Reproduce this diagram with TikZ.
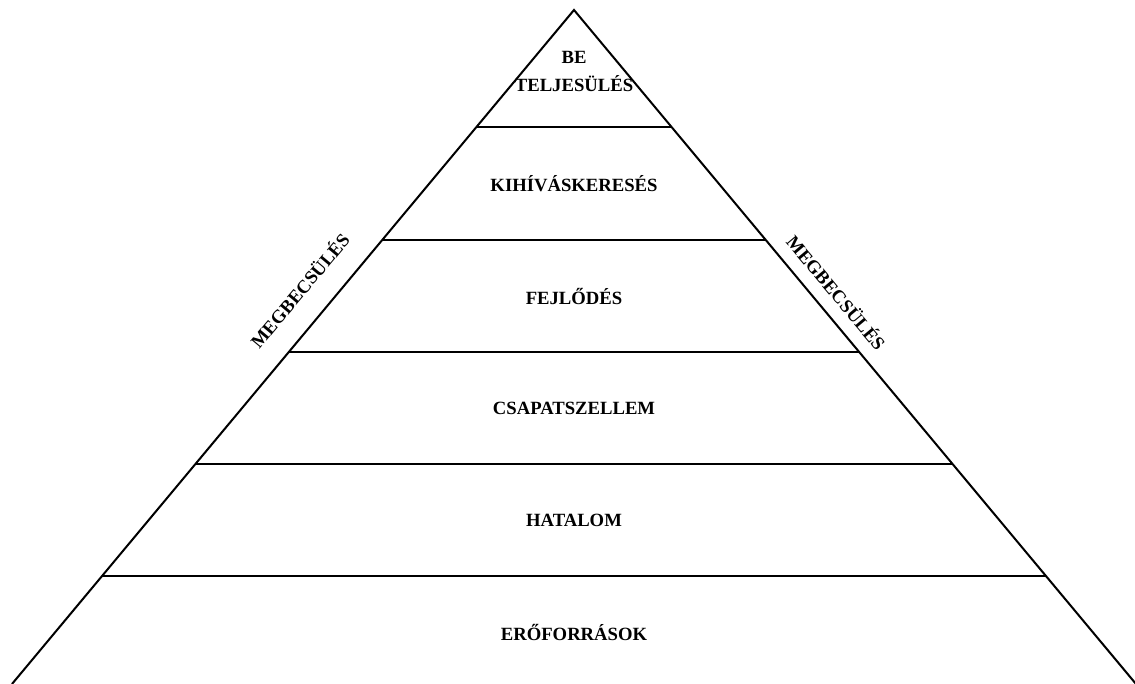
\documentclass[tikz,border=0pt]{standalone}
\usepackage{fontspec}
\setmainfont{Liberation Serif}
\usetikzlibrary{calc}
\begin{document}
\begin{tikzpicture}[x=0.75pt,y=-0.75pt,
  edge/.style={line width=1.5pt,black},
  lbl/.style={font=\bfseries\fontsize{14}{16}\selectfont,inner sep=0pt,align=center}]
\useasboundingbox (0,0) rectangle (1135,684);
\coordinate (apex) at (574,10);
\coordinate (bl) at (12,684);
\coordinate (br) at (1136,684);
\draw[edge,line join=miter] (bl) -- (apex) -- (br);
\foreach \y/\n in {127/a,240/b,352/c,464/d,576/e}{
  \coordinate (L\n) at ($(apex)!{(\y-10)/674}!(bl)$);
  \coordinate (R\n) at ($(apex)!{(\y-10)/674}!(br)$);
  \draw[edge] (L\n) -- (R\n);
}
\node[lbl] (t1) at (574,57) {BE};
\node[lbl] (t1b) at (574,84) {TELJESÜLÉS};
\node[lbl] (t2) at (574,184) {KIHÍVÁSKERESÉS};
\node[lbl] (t3) at (574,296) {FEJLŐDÉS};
\node[lbl] (t4) at (574,408) {CSAPATSZELLEM};
\node[lbl] (t5) at (574,520) {HATALOM};
\node[lbl] (t6) at (574,632) {ERŐFORRÁSOK};
\node[lbl,rotate=50] (ml) at (299,290) {MEGBECSÜLÉS};
\node[lbl,rotate=-50] (mr) at (837,292) {MEGBECSÜLÉS};
\end{tikzpicture}
\end{document}
